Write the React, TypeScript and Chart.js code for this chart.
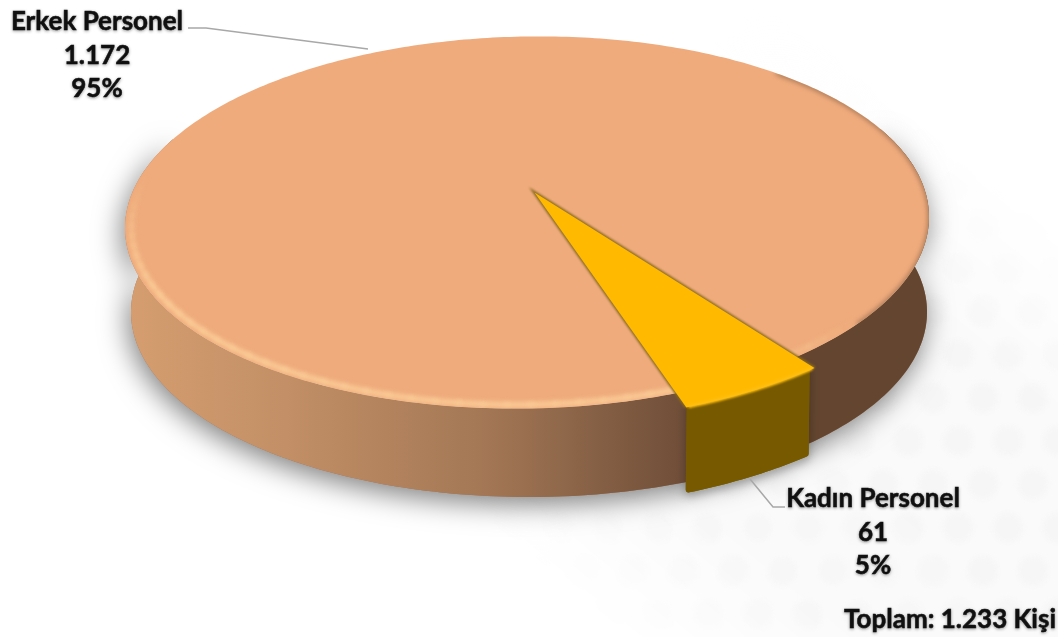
import React, { useEffect, useRef } from "react";
import { Chart, registerables } from "chart.js";

Chart.register(...registerables);

const categories = ["Erkek Personel", "Kadın Personel"];
const values = [1172, 61];
const valueLabels = ["1.172", "61"];
const percentLabels = ["95%", "5%"];
const totalLabel = "Toplam: 1.233 Kişi";
const sliceColors = ["#EFAB7C", "#FFBA00"];

const W = 1058;
const H = 637;
const TOP = { cx: 527, cy: 222.5, a: 402, b: 186, rot: (-1 * Math.PI) / 180 };
const BOT = { cx: 529, cy: 312, a: 398, b: 185, rot: 0 };
const BOOST = { x: 0.02, y: -0.16 };
const WEDGE_R = 1.06;
const WEDGE_DEPTH = { x: -1, y: 86 };
const FONT = 'bold 26px Lato, "Open Sans", sans-serif';

type Ell = typeof TOP;

function project(e: Ell, angle: number, r = 1) {
  const px = r * Math.cos(angle);
  const py = r * Math.sin(angle);
  const s2 = BOOST.x * BOOST.x + BOOST.y * BOOST.y;
  const s = Math.sqrt(s2);
  const dx = BOOST.x / s;
  const dy = BOOST.y / s;
  const along = px * dx + py * dy;
  const w = 1 + along * s;
  const k = Math.sqrt(1 - s2);
  const u = (along * dx + BOOST.x + (px - along * dx) * k) / w;
  const v = (along * dy + BOOST.y + (py - along * dy) * k) / w;
  const X = e.a * u;
  const Y = e.b * v;
  return {
    x: e.cx + X * Math.cos(e.rot) - Y * Math.sin(e.rot),
    y: e.cy + X * Math.sin(e.rot) + Y * Math.cos(e.rot),
  };
}

function trace(ctx: CanvasRenderingContext2D, e: Ell, a0: number, a1: number, r = 1, move = true) {
  const n = Math.max(8, Math.ceil(Math.abs(a1 - a0) * 60));
  for (let i = 0; i <= n; i++) {
    const p = project(e, a0 + ((a1 - a0) * i) / n, r);
    if (i === 0 && move) ctx.moveTo(p.x, p.y);
    else ctx.lineTo(p.x, p.y);
  }
}

function drawBackground(ctx: CanvasRenderingContext2D) {
  ctx.save();
  ctx.fillStyle = "#FFFFFF";
  ctx.fillRect(0, 0, W, H);
  const off = document.createElement("canvas");
  off.width = W;
  off.height = H;
  const o = off.getContext("2d")!;
  o.fillStyle = "#FAFAFA";
  o.fillRect(0, 0, W, H);
  o.fillStyle = "#F6F6F6";
  o.filter = "blur(2px)";
  const step = 50;
  const rowH = step * 0.866;
  for (let row = 0; row * rowH < H + rowH; row++) {
    for (let col = -1; col * step < W + step; col++) {
      const x = col * step + (row % 2 ? step / 2 : 0) + 8;
      const y = row * rowH + 8;
      o.beginPath();
      o.arc(x, y, 15, 0, Math.PI * 2);
      o.fill();
    }
  }
  o.filter = "none";
  o.globalCompositeOperation = "destination-in";
  const g = o.createLinearGradient(620, 640, 1000, 180);
  g.addColorStop(0, "rgba(0,0,0,0)");
  g.addColorStop(0.25, "rgba(0,0,0,0.9)");
  g.addColorStop(0.75, "rgba(0,0,0,1)");
  g.addColorStop(1, "rgba(0,0,0,0)");
  const g2 = o.createLinearGradient(600, 150, 1058, 637);
  o.fillStyle = g;
  o.fillRect(0, 0, W, H);
  g2.addColorStop(0, "rgba(0,0,0,0)");
  g2.addColorStop(0.4, "rgba(0,0,0,1)");
  o.fillStyle = g2;
  o.fillRect(0, 0, W, H);
  ctx.drawImage(off, 0, 0);
  ctx.restore();
}

function drawBody(ctx: CanvasRenderingContext2D) {
  const silhouette = () => {
    ctx.beginPath();
    trace(ctx, TOP, -0.35, Math.PI + 0.35);
    trace(ctx, BOT, Math.PI + 0.1, -0.1, 1, false);
    ctx.closePath();
  };
  ctx.save();
  ctx.shadowColor = "rgba(0,0,0,0.5)";
  ctx.shadowBlur = 28;
  ctx.shadowOffsetX = -3;
  ctx.shadowOffsetY = 7;
  ctx.fillStyle = "#A07050";
  silhouette();
  ctx.fill();
  ctx.restore();
  const g = ctx.createLinearGradient(125, 0, 930, 0);
  g.addColorStop(0, "#D69E70");
  g.addColorStop(0.2, "#C28F66");
  g.addColorStop(0.45, "#A37755");
  g.addColorStop(0.68, "#72503A");
  g.addColorStop(0.8, "#644630");
  g.addColorStop(1, "#644630");
  ctx.fillStyle = g;
  silhouette();
  ctx.fill();

  const topFace = () => {
    ctx.beginPath();
    trace(ctx, TOP, 0, Math.PI * 2);
    ctx.closePath();
  };
  ctx.fillStyle = sliceColors[0];
  topFace();
  ctx.fill();
  ctx.save();
  topFace();
  ctx.clip();
  ctx.filter = "blur(2.5px)";
  ctx.strokeStyle = "#FDD29C";
  ctx.lineWidth = 4.5;
  ctx.lineCap = "round";
  const start = 0.75;
  const end = Math.PI + 0.12;
  const segs = 48;
  for (let i = 0; i < segs; i++) {
    const t = (i + 0.5) / segs;
    ctx.globalAlpha = Math.min(1, t / 0.18, (1 - t) / 0.25);
    ctx.beginPath();
    trace(ctx, TOP, start + ((end - start) * i) / segs, start + ((end - start) * (i + 1)) / segs, 0.985);
    ctx.stroke();
  }
  ctx.globalAlpha = 1;
  ctx.strokeStyle = "#8A6347";
  ctx.lineWidth = 3;
  ctx.beginPath();
  trace(ctx, TOP, -0.8, 0.75, 1.002);
  ctx.stroke();
  ctx.restore();
}

function drawWedge(ctx: CanvasRenderingContext2D, a0: number, a1: number) {
  const inset = 0.012;
  const wall = () => {
    ctx.beginPath();
    const n = 24;
    const b0 = a0 + inset;
    const b1 = a1 - inset;
    const r = WEDGE_R - inset;
    for (let i = 0; i <= n; i++) {
      const p = project(TOP, b0 + ((b1 - b0) * i) / n, r);
      if (i === 0) ctx.moveTo(p.x, p.y);
      else ctx.lineTo(p.x, p.y);
    }
    for (let i = n; i >= 0; i--) {
      const p = project(TOP, b0 + ((b1 - b0) * i) / n, r);
      ctx.lineTo(p.x + WEDGE_DEPTH.x, p.y + WEDGE_DEPTH.y);
    }
    ctx.closePath();
  };
  ctx.save();
  ctx.shadowColor = "rgba(0,0,0,0.35)";
  ctx.shadowBlur = 10;
  ctx.shadowOffsetY = 3;
  ctx.fillStyle = "#775A00";
  ctx.strokeStyle = "#775A00";
  ctx.lineWidth = 6;
  ctx.lineJoin = "round";
  wall();
  ctx.stroke();
  ctx.restore();
  ctx.save();
  ctx.fillStyle = "#775A00";
  ctx.strokeStyle = "#775A00";
  ctx.lineWidth = 6;
  ctx.lineJoin = "round";
  wall();
  ctx.fill();
  ctx.stroke();
  ctx.restore();

  const apex = project(TOP, 0, 0);
  const face = () => {
    ctx.beginPath();
    ctx.moveTo(apex.x, apex.y);
    trace(ctx, TOP, a0, a1, WEDGE_R, false);
    ctx.closePath();
  };
  const p0 = project(TOP, a0, WEDGE_R);
  const p1 = project(TOP, a1, WEDGE_R);
  ctx.save();
  ctx.filter = "blur(1px)";
  ctx.strokeStyle = "#8A6A20";
  ctx.lineWidth = 3;
  ctx.beginPath();
  ctx.moveTo(p0.x, p0.y);
  ctx.lineTo(apex.x, apex.y);
  ctx.lineTo(p1.x, p1.y);
  ctx.stroke();
  ctx.restore();

  ctx.save();
  ctx.fillStyle = sliceColors[1];
  face();
  ctx.fill();
  ctx.filter = "blur(1.2px)";
  ctx.strokeStyle = "#FFBE10";
  ctx.lineWidth = 3.5;
  ctx.lineCap = "round";
  ctx.beginPath();
  trace(ctx, TOP, a0 + 0.008, a1 - 0.008, WEDGE_R - 0.002);
  ctx.stroke();
  ctx.restore();
}

function drawLabels(ctx: CanvasRenderingContext2D) {
  ctx.save();
  ctx.strokeStyle = "#A8A8A8";
  ctx.lineWidth = 1.5;
  ctx.beginPath();
  ctx.moveTo(188, 28);
  ctx.lineTo(206, 28);
  ctx.lineTo(368, 49);
  ctx.moveTo(750, 479);
  ctx.lineTo(773, 507);
  ctx.lineTo(785, 507);
  ctx.stroke();

  ctx.font = FONT;
  ctx.fillStyle = "#111111";
  ctx.strokeStyle = "#111111";
  ctx.lineWidth = 0.5;
  ctx.textBaseline = "middle";
  ctx.shadowColor = "rgba(0,0,0,0.35)";
  ctx.shadowBlur = 3;
  ctx.shadowOffsetY = 1;
  const put = (text: string, x: number, y: number) => {
    ctx.fillText(text, x, y);
    ctx.strokeText(text, x, y);
  };
  ctx.textAlign = "center";
  const anchors = [
    { x: 97, y: 22 },
    { x: 873, y: 499 },
  ];
  const lineGap = 33.5;
  categories.forEach((name, i) => {
    const { x, y } = anchors[i];
    put(name, x, y);
    put(valueLabels[i], x, y + lineGap);
    put(percentLabels[i], x, y + lineGap * 2);
  });
  ctx.textAlign = "right";
  put(totalLabel, 1056, 620);
  ctx.restore();
}

const pie3d = {
  id: "pie3d",
  beforeDatasetDraw(chart: any) {
    const ctx: CanvasRenderingContext2D = chart.ctx;
    const arcs = chart.getDatasetMeta(0).data;
    drawBackground(ctx);
    drawBody(ctx);
    drawWedge(ctx, arcs[1].startAngle, arcs[1].endAngle);
    drawLabels(ctx);
    return false;
  },
};

export default function App() {
  const ref = useRef<HTMLCanvasElement>(null);
  useEffect(() => {
    const chart = new Chart(ref.current!, {
      type: "pie",
      data: {
        labels: categories,
        datasets: [{ data: values, backgroundColor: sliceColors, borderWidth: 0 }],
      },
      options: {
        responsive: false,
        animation: false,
        rotation: 162.8,
        plugins: { legend: { display: false }, tooltip: { enabled: false } },
      },
      plugins: [pie3d],
    } as any);
    return () => chart.destroy();
  }, []);
  return (
    <div style={{ position: "fixed", left: 0, top: 0, width: W, height: H, background: "#fff" }}>
      <canvas ref={ref} width={W} height={H} style={{ display: "block" }} />
    </div>
  );
}
